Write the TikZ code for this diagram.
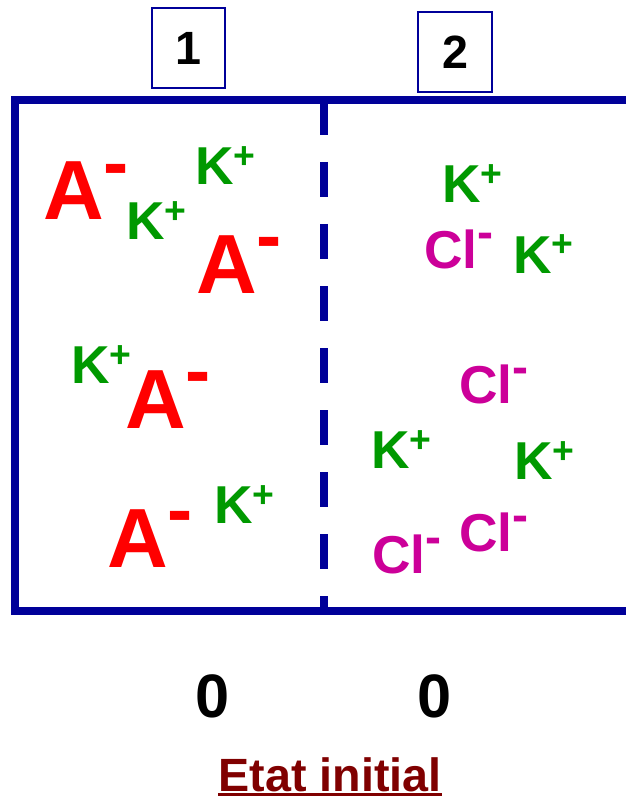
\documentclass[tikz,border=0pt]{standalone}
\usepackage{fontspec}
\setmainfont{Liberation Sans}
\usepackage{graphicx}
\usepackage{xcolor}
\usepackage{tikz}
\usetikzlibrary{positioning}
\definecolor{wallc}{HTML}{000099}
\definecolor{anc}{HTML}{FF0000}
\definecolor{kc}{HTML}{009900}
\definecolor{clc}{HTML}{CC0099}
\definecolor{titc}{HTML}{800000}
\newcommand{\chplus}{\raisebox{0.3em}{\scalebox{0.7}{+}}}
\newcommand{\chminus}{\raisebox{0.37em}{\scalebox{0.9}{-}}}
\tikzset{
  wall/.style={wallc,line width=6pt},
  ion/.style={anchor=base west,inner sep=0pt,font=\bfseries\fontsize{40}{40}\selectfont},
  anion/.style={ion,text=anc,font=\bfseries\fontsize{63}{63}\selectfont},
  kion/.style={ion,text=kc},
  clion/.style={ion,text=clc},
  numbox/.style={draw=wallc,line width=1.4pt,minimum width=55pt,minimum height=60pt,inner sep=0pt,font=\bfseries\fontsize{35}{35}\selectfont},
  conc/.style={anchor=base,inner sep=0pt,font=\bfseries\fontsize{46}{46}\selectfont}
}
\begin{document}
\begin{tikzpicture}[x=0.75pt,y=-0.75pt]
\useasboundingbox (0,0) rectangle (626,798);
% compartments
\draw[wall] (626,100) -- (15,100) -- (15,611) -- (626,611);
\draw[wall,dash pattern=on 26.25pt off 20.25pt] (324,100) -- (324,611);
\node[numbox] (box1) at (188.5,48) {1};
\node[numbox] (box2) at (455,52) {2};
% side 1
\node[anion] (a1) at (43,220) {A\chminus};
\node[anion] (a2) at (196,293) {A\chminus};
\node[anion] (a3) at (125,428) {A\chminus};
\node[anion] (a4) at (107,567) {A\chminus};
\node[kion] (k1) at (195,185) {K\chplus};
\node[kion] (k2) at (126,240) {K\chplus};
\node[kion] (k3) at (71,383) {K\chplus};
\node[kion] (k4) at (214,523) {K\chplus};
% side 2
\node[kion] (k5) at (442,203) {K\chplus};
\node[kion] (k6) at (513,273) {K\chplus};
\node[kion] (k7) at (371,468) {K\chplus};
\node[kion] (k8) at (514,479) {K\chplus};
\node[clion] (c1) at (424,268) {Cl\chminus};
\node[clion] (c2) at (459,403) {Cl\chminus};
\node[clion] (c3) at (459,551) {Cl\chminus};
\node[clion] (c4) at (372,573) {Cl\chminus};
% potentials
\node[conc] (v1) at (213,717) {0};
\node[conc] (v2) at (435,717) {0};
\node[conc,text=titc,font=\bfseries\fontsize{35}{35}\selectfont] (etat) at (330,791) {Etat initial};
\draw[titc,line width=2pt] ([yshift=-2.6pt]etat.base west) -- ([yshift=-2.6pt]etat.base east);
\end{tikzpicture}
\end{document}
